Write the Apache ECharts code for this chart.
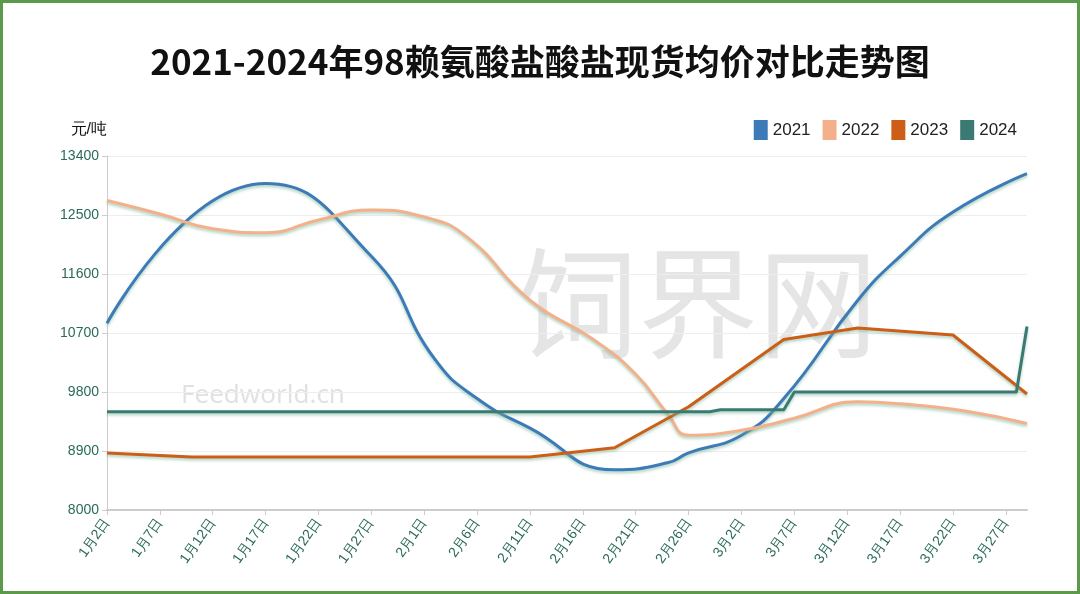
<!DOCTYPE html><html><head><meta charset="utf-8">
<script src="https://cdn.jsdelivr.net/npm/echarts@6/dist/echarts.min.js"></script>
<style>html,body{margin:0;padding:0;background:#fff}#c{width:1080px;height:594px;box-sizing:border-box;border:3px solid #5a9a48;}</style></head><body><div id="c"></div>
<script>
// categories: daily 1月2日 .. 3月29日 (includes 2月29日)
const months=[[1,2,31],[2,1,29],[3,1,29]];
const categories=[];
for(const [m,s,e] of months){for(let d=s;d<=e;d++)categories.push(m+'月'+d+'日');}
const idx2021=[0,15,25,31,35,40,48,53,55,60,64,71,75,80,87];
const val2021=[10850,12980,11870,10300,9700,9250,8615,8720,8870,9140,9700,11200,11870,12545,13130];
const idx2022=[0,5,10,15,20,25,30,34,40,46,50,53,55,60,65,71,75,81,87];
const val2022=[12720,12515,12290,12230,12425,12575,12470,12170,11200,10600,10070,9470,9140,9215,9400,9650,9620,9515,9320];
const idx2023=[0,8,40,48,55,64,71,80,87];
const val2023=[8870,8810,8810,8950,9575,10600,10775,10670,9770];
const idx2024=[0,57,58,64,65,86,87];
const val2024=[9500,9500,9530,9530,9800,9800,10800];
const pairs=(ix,v)=>ix.map((i,k)=>[categories[i],v[k]]);
const ch=echarts.init(document.getElementById('c'));
const mk=(name,color,data,smooth)=>({name,type:'line',data,smooth,showSymbol:false,
  lineStyle:{width:3,color,shadowColor:'rgba(120,180,150,0.6)',shadowBlur:3,shadowOffsetY:2},itemStyle:{color}});
ch.setOption({
  title:{text:'2021-2024年98赖氨酸盐酸盐现货均价对比走势图',left:'center',top:36,textStyle:{fontSize:35,fontWeight:'bold',color:'#111',fontFamily:'Noto Sans CJK SC'}},
  graphic:[{type:'text',left:515,top:240,z:-1,style:{text:'饲界网',fontSize:120,fill:'rgba(180,180,180,0.35)',fontFamily:'Noto Sans CJK SC'}},
           {type:'text',left:178,top:380,z:-1,style:{text:'Feedworld.cn',fontSize:26,fill:'rgba(180,180,180,0.4)',fontFamily:'Noto Sans'}}],
  legend:{right:55,top:112,itemWidth:14,itemHeight:20,itemGap:12,icon:'rect',textStyle:{fontSize:17,color:'#222'},
    data:['2021','2022','2023','2024']},
  grid:{left:104,right:50,top:153,bottom:81},
  xAxis:{type:'category',data:categories,boundaryGap:false,
    axisLine:{lineStyle:{color:'#ccc',width:2}},axisTick:{interval:4,lineStyle:{color:'#ccc'}},
    axisLabel:{interval:4,rotate:55,color:'#2a6a5a',fontSize:14,margin:10}},
  yAxis:{type:'value',name:'元/吨',nameLocation:'end',nameGap:18,nameTextStyle:{color:'#111',fontSize:16,align:'right'},
    min:8000,max:13400,interval:900,axisLine:{show:true,lineStyle:{color:'#ccc'}},axisTick:{show:true},
    axisLabel:{color:'#2a6a5a',fontSize:14,formatter:v=>String(v)},splitLine:{lineStyle:{color:'#eee'}}},
  series:[mk('2021','#3d7ab8',pairs(idx2021,val2021),0.5),
          mk('2022','#f4b08a',pairs(idx2022,val2022),0.5),
          mk('2023','#cc5e18',pairs(idx2023,val2023),false),
          mk('2024','#3a7a72',pairs(idx2024,val2024),false)]
});
</script></body></html>
